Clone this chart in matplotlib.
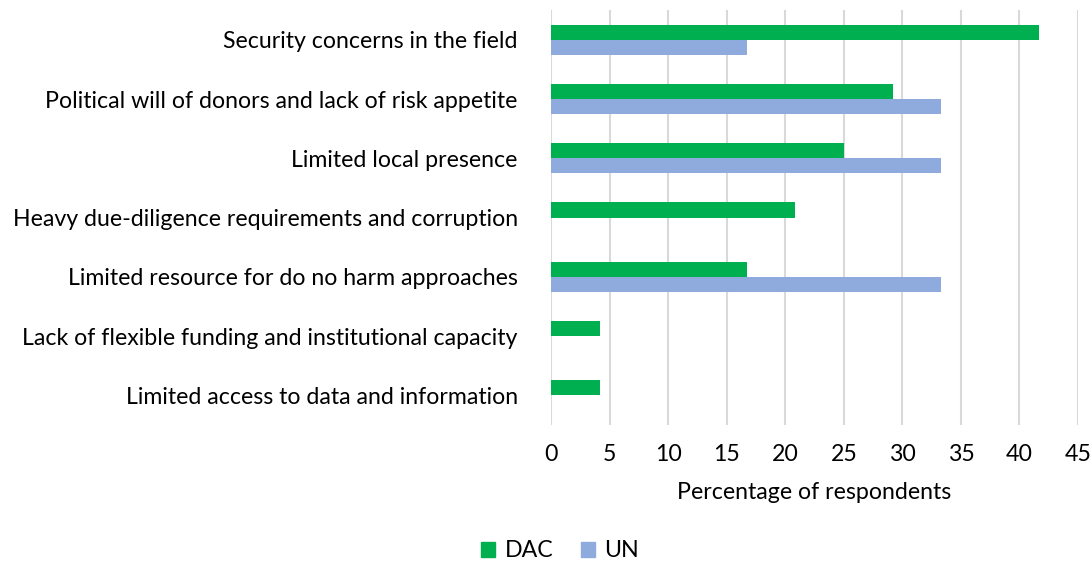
import matplotlib.pyplot as plt
import numpy as np
from matplotlib.patches import Patch

plt.rcParams['font.family'] = ['Lato', 'DejaVu Sans']

categories = [
    "Security concerns in the field",
    "Political will of donors and lack of risk appetite",
    "Limited local presence",
    "Heavy due-diligence requirements and corruption",
    "Limited resource for do no harm approaches",
    "Lack of flexible funding and institutional capacity",
    "Limited access to data and information",
]
dac = [41.7, 29.2, 25.0, 20.8, 16.7, 4.2, 4.2]
un = [16.7, 33.3, 33.3, 0, 33.3, 0, 0]
ticks = [0, 5, 10, 15, 20, 25, 30, 35, 40, 45]

green = "#00B050"
blue = "#8FAADC"
fs = 16.7

fig = plt.figure(figsize=(10.92, 5.65), dpi=100)
ax = fig.add_axes([0.5046, 0.248, 0.4826, 0.734])

y = np.arange(len(categories))
h = 0.255
ax.barh(y - h / 2, dac, height=h, color=green, zorder=3)
ax.barh(y + h / 2, un, height=h, color=blue, zorder=3)

ax.set_ylim(len(categories) - 0.5, -0.5)
ax.set_xlim(0, 45)
ax.set_xticks(ticks)
ax.set_yticks(y)
ax.set_yticklabels(categories, fontsize=fs)
ax.tick_params(axis='both', length=0, labelsize=fs, colors="#000000")
ax.tick_params(axis='y', pad=24)
ax.tick_params(axis='x', pad=14)
ax.grid(axis='x', color="#D9D9D9", linewidth=1.5, zorder=0)
for s in ax.spines.values():
    s.set_visible(False)
ax.set_xlabel("Percentage of respondents", fontsize=fs, labelpad=12)

handles = [Patch(color=green, label="DAC"), Patch(color=blue, label="UN")]
fig.legend(handles=handles, loc="center", bbox_to_anchor=(0.513, 0.025),
           ncol=2, frameon=False, fontsize=fs, handlelength=0.6,
           handleheight=0.6, handletextpad=0.4, columnspacing=1.2)

fig.savefig("out.png", dpi=100)
